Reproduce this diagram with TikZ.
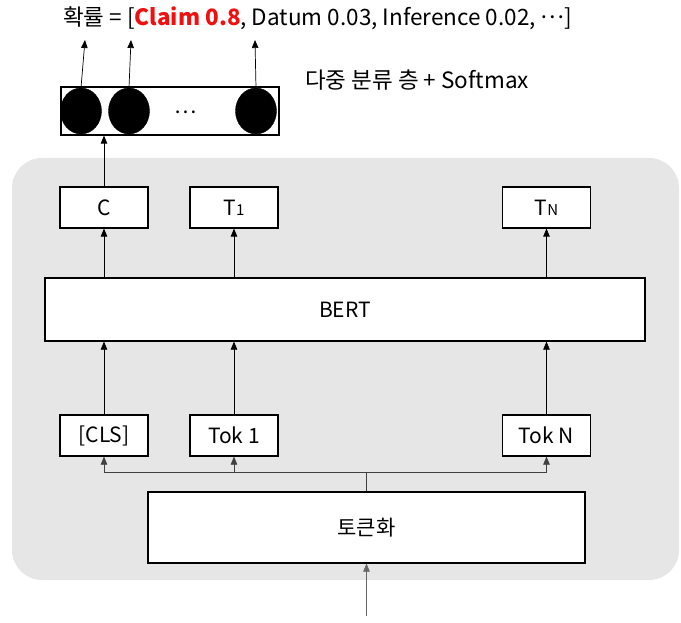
\documentclass[tikz,border=0pt]{standalone}
\usepackage{fontspec}
\setmainfont{Noto Sans CJK KR}
\usetikzlibrary{arrows.meta,shapes.geometric}
\definecolor{panel}{HTML}{E6E6E6}
\definecolor{hot}{HTML}{F01010}
\tikzset{
  box/.style={draw=black,line width=1.2pt,fill=white,minimum height=41pt,minimum width=88pt,inner sep=0pt,font=\fontsize{21}{24}\selectfont},
  dot/.style={ellipse,fill=black,draw=black,minimum width=41pt,minimum height=46pt,inner sep=0pt},
  arr/.style={-{Triangle[length=8pt,width=6.5pt]},line width=0.7pt},
  link/.style={line width=0.9pt,draw=black!75},
}
\begin{document}
\begin{tikzpicture}[x=1pt,y=-1pt]
\useasboundingbox (0,0) rectangle (681,623);
% grey panel holding the encoder
\fill[panel,rounded corners=30pt] (12,158) rectangle (679,580);

% title line with class probabilities
\node[font=\fontsize{22.5}{26}\selectfont,anchor=west,inner sep=0pt] (prob) at (63,18)
  {확률 = [{\color{hot}\bfseries Claim 0.8}, Datum 0.03, Inference 0.02, \raisebox{0.3em}{⋯}]};
\node[font=\fontsize{22.5}{26}\selectfont,anchor=west,inner sep=0pt] (cls) at (305,80) {다중 분류 층 + Softmax};

% classification layer
\node[draw=black,line width=1.2pt,fill=white,minimum width=218pt,minimum height=48pt,inner sep=0pt] (layer) at (170,111) {};
\node[dot] (d1) at (81,111) {};
\node[dot] (d2) at (129,111) {};
\node[dot] (d3) at (256,111) {};
\node[font=\fontsize{21}{24}\selectfont] (dots) at (186,112) {⋯};
\coordinate (p1) at (85,40);
\coordinate (p2) at (131,40);
\coordinate (p3) at (255,40);
\draw[arr] (d1.north) -- (p1);
\draw[arr] (d2.north) -- (p2);
\draw[arr] (d3.north) -- (p3);

% encoder outputs
\node[box] (c)  at (104,207.5) {C};
\node[box] (t1) at (234,207.5) {T{\fontsize{15}{18}\selectfont 1}};
\node[box] (tn) at (546.5,207.5) {T{\fontsize{15}{18}\selectfont N}};
\draw[arr] (c.north) -- (c.north |- layer.south);

% BERT
\node[box,minimum width=600pt,minimum height=63pt] (bert) at (345,309.5) {BERT};
\draw[arr] (c.south |- bert.north) -- (c.south);
\draw[arr] (t1.south |- bert.north) -- (t1.south);
\draw[arr] (tn.south |- bert.north) -- (tn.south);

% input tokens
\node[box] (tcls) at (104,435.5) {[CLS]};
\node[box] (tok1) at (234,435.5) {Tok 1};
\node[box] (tokn) at (546.5,435.5) {Tok N};
\draw[arr] (tcls.north) -- (tcls.north |- bert.south);
\draw[arr] (tok1.north) -- (tok1.north |- bert.south);
\draw[arr] (tokn.north) -- (tokn.north |- bert.south);

% tokenizer and its fan-out
\node[box,minimum width=437pt,minimum height=71pt] (tokz) at (366.5,527.5) {토큰화};
\coordinate (fork) at (366.5,472);
\draw[link] (tokz.north) -- (fork);
\draw[link] (tcls.south |- fork) -- (tokn.south |- fork);
\draw[arr,draw=black!75] (tcls.south |- fork) -- (tcls.south);
\draw[arr,draw=black!75] (tok1.south |- fork) -- (tok1.south);
\draw[arr,draw=black!75] (tokn.south |- fork) -- (tokn.south);

% raw text entering the tokenizer
\coordinate (input) at (366.5,616);
\draw[arr,draw=black!60] (input) -- (tokz.south);
\end{tikzpicture}
\end{document}
